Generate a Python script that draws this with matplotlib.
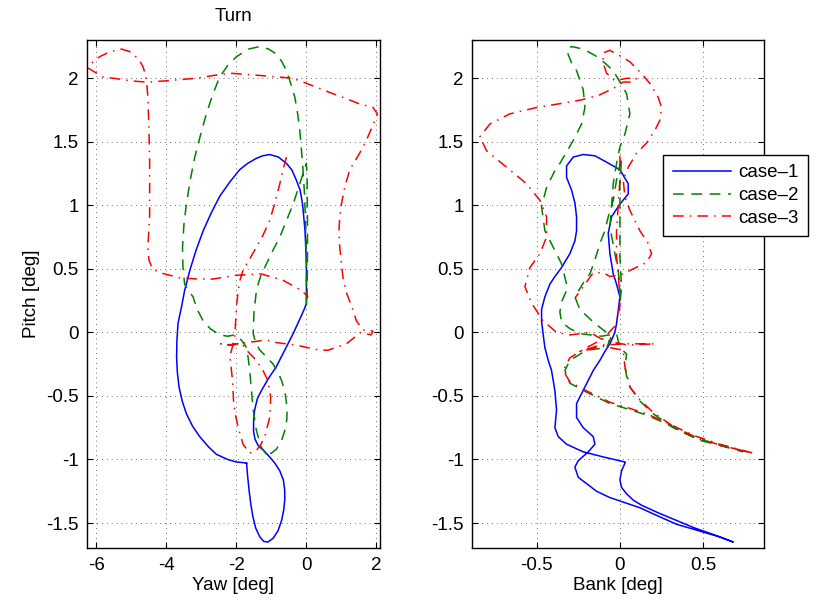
import matplotlib
matplotlib.use("Agg")
import matplotlib.pyplot as plt
from matplotlib.ticker import FormatStrFormatter

plt.rcParams['font.family'] = ['Liberation Sans', 'DejaVu Sans']
plt.rcParams['axes.unicode_minus'] = False
fs = 13.5

labels = ['case\u20131', 'case\u20132', 'case\u20133']

# ---- case-1 (blue) ----
yaw1 = [-1.71, -1.68, -1.64, -1.59, -1.53, -1.45, -1.33, -1.22, -1.10, -0.95, -0.81, -0.71, -0.65,
        -0.62, -0.62, -0.66, -0.76, -0.90, -1.05, -1.22, -1.38, -1.47, -1.51, -1.51, -1.48, -1.40,
        -1.29, -1.08, -0.86, -0.62, -0.38, -0.18, -0.05, 0.0, 0.0, 0.0, 0.0, -0.02, -0.04, -0.11,
        -0.18, -0.29, -0.42, -0.57, -0.80, -1.05, -1.25, -1.43, -1.68, -1.91, -2.20, -2.48, -2.72,
        -2.95, -3.15, -3.33, -3.48, -3.57, -3.67, -3.70, -3.71, -3.69, -3.64, -3.55, -3.43, -3.25,
        -3.05, -2.80, -2.57, -2.25, -2.0, -1.80, -1.71]
pitch1 = [-1.03, -1.13, -1.24, -1.35, -1.45, -1.54, -1.61, -1.645, -1.65, -1.62, -1.56, -1.48, -1.40,
          -1.32, -1.24, -1.16, -1.09, -1.03, -0.98, -0.93, -0.89, -0.84, -0.78, -0.70, -0.61, -0.52,
          -0.46, -0.36, -0.27, -0.14, -0.01, 0.11, 0.19, 0.23, 0.28, 0.41, 0.54, 0.67, 0.80, 1.01,
          1.12, 1.20, 1.28, 1.33, 1.38, 1.40, 1.39, 1.37, 1.33, 1.28, 1.18, 1.07, 0.94,
          0.80, 0.65, 0.49, 0.33, 0.20, 0.07, -0.06, -0.19, -0.31, -0.43, -0.54, -0.64, -0.74,
          -0.82, -0.90, -0.96, -1.00, -1.02, -1.025, -1.03]

bank1 = [0.03, 0.01, 0.0, 0.01, 0.04, 0.08, 0.13, 0.23, 0.34, 0.45, 0.56, 0.64, 0.68, 0.60, 0.47,
         0.34, 0.22, 0.12, 0.03, -0.06, -0.14, -0.20, -0.25, -0.27, -0.25, -0.19, -0.15, -0.16,
         -0.22, -0.26, -0.26, -0.21, -0.16, -0.12, -0.09, -0.06, -0.03, -0.02, -0.01, 0.0, -0.02,
         -0.04, -0.06, -0.07, -0.05, 0.0, 0.05, 0.05, 0.0, -0.08, -0.15, -0.22, -0.28, -0.32, -0.32,
         -0.29, -0.27, -0.26, -0.26, -0.27, -0.30, -0.35, -0.39, -0.42, -0.45, -0.47, -0.47, -0.46,
         -0.45, -0.43, -0.41, -0.39, -0.38, -0.39, -0.37, -0.32, -0.22, -0.10, 0.03]
pitchb1 = [-1.03, -1.09, -1.16, -1.22, -1.27, -1.32, -1.36, -1.42, -1.48, -1.54, -1.59, -1.63, -1.65,
           -1.61, -1.56, -1.51, -1.44, -1.38, -1.34, -1.30, -1.25, -1.19, -1.14, -1.06, -1.01, -0.94,
           -0.88, -0.82, -0.75, -0.67, -0.56, -0.43, -0.30, -0.22, -0.15, -0.09, 0.0, 0.07, 0.17,
           0.28, 0.38, 0.46, 0.62, 0.78, 0.91, 1.01, 1.09, 1.17, 1.28, 1.34, 1.39, 1.40, 1.38, 1.31,
           1.22, 1.12, 1.02, 0.91, 0.80, 0.72, 0.62, 0.51, 0.44, 0.38, 0.28, 0.18, 0.09, -0.02,
           -0.12, -0.22, -0.30, -0.46, -0.61, -0.75, -0.82, -0.88, -0.94, -0.98, -1.02]

# ---- case-2 (green) ----
yaw2 = [-1.14, -1.30, -1.43, -1.52, -1.57, -1.62, -1.67, -1.71, -1.86, -2.05, -2.25, -2.48, -2.75,
        -2.95, -3.12, -3.24, -3.40, -3.48, -3.53, -3.54, -3.50, -3.43, -3.32, -3.19, -3.03, -2.86,
        -2.68, -2.48, -2.25, -2.0, -1.65, -1.33, -1.08, -0.86, -0.70, -0.57, -0.45, -0.33, -0.25,
        -0.19, -0.11, -0.05, -0.02, 0.0, 0.0, 0.0, 0.02, 0.03, 0.03, 0.02, 0.0, -0.38, -0.57,
        -0.76, -0.95, -1.14, -1.30, -1.38, -1.43, -1.48, -1.50, -1.52, -1.45, -1.33, -1.15, -0.95,
        -0.80, -0.71, -0.62, -0.59, -0.55, -0.56, -0.59, -0.71, -0.86, -1.0, -1.14]
pitch2 = [-0.96, -0.90, -0.77, -0.61, -0.46, -0.30, -0.19, -0.12, -0.06, -0.02, -0.03, -0.02, 0.03,
          0.09, 0.18, 0.28, 0.34, 0.38, 0.52, 0.67, 0.85, 1.01, 1.20, 1.38, 1.55, 1.72,
          1.87, 2.01, 2.10, 2.17, 2.23, 2.25, 2.23, 2.19, 2.13, 2.06, 1.96, 1.85, 1.72,
          1.59, 1.33, 1.07, 0.80, 0.54, 0.28, 0.21, 0.30, 0.60, 0.90, 1.20, 1.33, 1.01, 0.88,
          0.75, 0.65, 0.54, 0.45, 0.38, 0.33, 0.20, 0.15, -0.01, -0.08, -0.14, -0.19, -0.25,
          -0.32, -0.38, -0.46, -0.51, -0.61, -0.68, -0.75, -0.85, -0.92, -0.95, -0.96]

bank2 = [0.76, 0.64, 0.48, 0.32, 0.20, 0.12, 0.06, 0.04, 0.03, 0.04, 0.0, -0.02, -0.11, -0.24, -0.30,
         -0.35, -0.36, -0.35, -0.32, -0.32, -0.35, -0.40, -0.45, -0.47, -0.44, -0.38, -0.36, -0.28,
         -0.23, -0.21, -0.22, -0.26, -0.29, -0.32, -0.29, -0.22, -0.15, -0.09, -0.04, 0.0, 0.04,
         0.06, 0.03, 0.0, -0.02, -0.04, -0.05, -0.06, -0.03, -0.01, 0.0, 0.0, 0.01, 0.0, 0.0, 0.0,
         0.01, -0.02, -0.04, -0.07, -0.09, -0.12, -0.15, -0.18, -0.21, -0.27, -0.24, -0.15, -0.05,
         -0.08, -0.20, -0.30, -0.33, -0.30, -0.20, -0.06, 0.04, 0.16, 0.28, 0.44, 0.60, 0.74]
pitchb2 = [-0.94, -0.90, -0.85, -0.75, -0.64, -0.54, -0.43, -0.34, -0.27, -0.17, -0.12, -0.01, -0.03,
           -0.01, 0.03, 0.08, 0.16, 0.24, 0.33, 0.38, 0.54, 0.67, 0.80, 0.99, 1.14, 1.30, 1.33, 1.51,
           1.64, 1.77, 1.91, 2.06, 2.12, 2.22, 2.25, 2.23, 2.18, 2.12, 2.06, 1.97, 1.88,
           1.72, 1.56, 1.46, 1.33, 1.17, 0.99, 0.83, 0.62, 0.49, 0.35, 0.23, 0.35, 0.60, 0.90, 1.15,
           1.38, 1.20, 1.04, 0.91, 0.80, 0.70, 0.57, 0.46, 0.41, 0.28, 0.18, 0.07, -0.03,
           -0.12, -0.14, -0.22, -0.30, -0.40, -0.47, -0.56, -0.60, -0.65, -0.72, -0.82, -0.89, -0.94]

# ---- case-3 (red) ----
yaw3 = [-0.57, -0.68, -0.76, -0.90, -1.05, -1.25, -1.43, -1.62, -1.81, -1.90, -1.95, -2.0, -2.02,
        -2.05, -2.12, -2.19, -2.15, -2.11, -2.08, -2.02, -1.95, -1.81, -1.62, -1.43, -1.30, -1.19,
        -1.05, -1.02, -1.10, -1.24, -1.43, -1.71, -1.86, -2.1, -2.45, -2.29, -1.71, -1.14, -0.86,
        -0.29, 0.38, 0.62, 1.14, 1.55, 1.85, 1.90, 1.62, 1.43, 1.30, 1.16, 1.05, 1.0, 0.95, 0.93,
        0.95, 1.0, 1.10, 1.24, 1.50, 1.71, 1.90, 2.03, 1.90, 1.50, 1.14, 0.65, 0.19, -0.38, -0.80,
        -1.24, -1.70, -2.19, -2.70, -3.14, -3.60, -4.0, -4.57, -5.05, -5.5, -5.81, -6.24, -6.1,
        -5.91, -5.6, -5.29, -5.05, -4.91, -4.75, -4.67, -4.60, -4.57, -4.53, -4.50, -4.48, -4.48,
        -4.48, -4.53, -4.50, -4.40, -4.19, -3.62, -3.10, -2.67, -2.0, -1.29, -0.67, -0.40, -0.14, 0.05]
pitch3 = [1.38, 1.27, 1.17, 1.02, 0.88, 0.76, 0.67, 0.58, 0.49, 0.41, 0.33, 0.20, 0.10,
          -0.04, -0.12, -0.19, -0.28, -0.38, -0.56, -0.66, -0.75, -0.88, -0.95, -0.93, -0.88, -0.82,
          -0.67, -0.51, -0.38, -0.30, -0.22, -0.14, -0.08, -0.10, -0.09, -0.10, -0.08, -0.06, -0.08,
          -0.10, -0.14, -0.14, -0.09, 0.0, -0.02, 0.01, 0.02, 0.09, 0.20, 0.30, 0.42, 0.54, 0.68, 0.80,
          0.90, 1.01, 1.15, 1.28, 1.40, 1.51, 1.63, 1.72, 1.77, 1.80, 1.84, 1.89, 1.94, 2.0, 2.01,
          2.02, 2.03, 2.04, 2.02, 2.0, 1.99, 1.98, 1.97, 1.98, 2.0, 2.01, 2.08, 2.13,
          2.17, 2.21, 2.23, 2.21, 2.18, 2.13, 2.09, 2.03, 1.98, 1.85, 1.60, 1.33, 1.10,
          0.93, 0.67, 0.57, 0.50, 0.47, 0.43, 0.42, 0.42, 0.45, 0.46, 0.41, 0.37, 0.33, 0.28]

bank3 = [0.0, 0.0, -0.01, -0.02, -0.02, -0.01, 0.0, 0.0, -0.03, -0.10, -0.20, -0.30, -0.34, -0.30,
         -0.20, -0.06, 0.04, 0.16, 0.28, 0.44, 0.60, 0.80, 0.64, 0.48, 0.32, 0.20, 0.12, 0.06, 0.03,
         0.02, -0.10, -0.24, -0.12, 0.05, 0.21, 0.05, -0.10, -0.18, -0.30, -0.38, -0.46, -0.53,
         -0.57, -0.54, -0.48, -0.44, -0.44, -0.48, -0.56, -0.68, -0.80, -0.84, -0.78, -0.66, -0.50,
         -0.36, -0.23, -0.12, -0.04, 0.02, 0.08, 0.10, 0.04, -0.03, -0.08, -0.10, -0.10, -0.06,
         0.01, 0.06, 0.12, 0.18, 0.23, 0.25, 0.24, 0.21, 0.16, 0.10, 0.05, 0.02, 0.03, 0.06, 0.12,
         0.17, 0.19, 0.16, 0.08, 0.0, -0.06, -0.10, -0.16, -0.22, -0.27]
pitchb3 = [1.39, 1.20, 1.0, 0.8, 0.6, 0.45, 0.30, 0.20, 0.05, -0.05, -0.12, -0.20, -0.30, -0.39,
           -0.46, -0.55, -0.59, -0.64, -0.71, -0.81, -0.88, -0.95, -0.90, -0.84, -0.74, -0.63, -0.53,
           -0.43, -0.27, -0.14, -0.11, -0.15, -0.10, -0.09, -0.09, -0.10, -0.06, 0.0, -0.02, 0.0,
           0.09, 0.23, 0.36, 0.51, 0.62, 0.75, 0.91, 1.04, 1.17, 1.30, 1.43, 1.54, 1.64, 1.72, 1.77,
           1.80, 1.83, 1.87, 1.92, 1.97, 1.97, 2.0, 2.0, 1.98, 2.04, 2.12, 2.20, 2.22,
           2.17, 2.13, 2.05, 1.96, 1.85, 1.77, 1.67, 1.59, 1.49, 1.41, 1.30, 1.20, 1.07, 0.96, 0.80,
           0.70, 0.62, 0.55, 0.50, 0.45, 0.44, 0.47, 0.47, 0.36, 0.27]

colors = ['#0000ff', '#008000', '#ff0000']
styles = ['-', (0, (7, 5)), (0, (7, 4, 1, 4))]

fig = plt.figure(figsize=(8.17, 6.08), dpi=100)
ax1 = fig.add_axes([0.1065, 0.098, 0.3585, 0.837])
ax2 = fig.add_axes([0.578, 0.098, 0.357, 0.837])

ax1.plot(yaw1, pitch1, color=colors[0], linestyle=styles[0], lw=1.1, label=labels[0])
ax1.plot(yaw2, pitch2, color=colors[1], linestyle=styles[1], lw=1.1, label=labels[1])
ax1.plot(yaw3, pitch3, color=colors[2], linestyle=styles[2], lw=1.1, label=labels[2])

ax2.plot(bank1, pitchb1, color=colors[0], linestyle=styles[0], lw=1.1, label=labels[0])
ax2.plot(bank2, pitchb2, color=colors[1], linestyle=styles[1], lw=1.1, label=labels[1])
ax2.plot(bank3, pitchb3, color=colors[2], linestyle=styles[2], lw=1.1, label=labels[2])

ax1.set_xlim(-6.27, 2.1)
ax2.set_xlim(-0.886, 0.864)
for ax in (ax1, ax2):
    ax.set_ylim(-1.70, 2.305)
    ax.set_yticks([-1.5, -1, -0.5, 0, 0.5, 1, 1.5, 2])
    ax.yaxis.set_major_formatter(FormatStrFormatter('%g'))
    ax.xaxis.set_major_formatter(FormatStrFormatter('%g'))
    ax.tick_params(direction='in', top=True, right=True, length=4, width=0.8,
                   labelsize=fs, pad=6)
    ax.grid(True, color='0.3', linestyle=(0, (0.8, 4.2)), lw=0.7)
    for s in ax.spines.values():
        s.set_linewidth(1.0)
ax1.set_xticks([-6, -4, -2, 0, 2])
ax2.set_xticks([-0.5, 0, 0.5])

ax1.set_title('Turn', fontsize=fs, pad=13)
ax1.set_xlabel('Yaw [deg]', fontsize=fs, labelpad=2)
ax2.set_xlabel('Bank [deg]', fontsize=fs, labelpad=2)
ax1.set_ylabel('Pitch [deg]', fontsize=fs, labelpad=4)

leg = ax2.legend(loc='upper left', bbox_to_anchor=(663.3 / 817, 1 - 155 / 608),
                 bbox_transform=fig.transFigure, fontsize=fs, handlelength=3.1,
                 handletextpad=0.4, borderpad=0.5, labelspacing=0.3, borderaxespad=0,
                 fancybox=False, framealpha=1, edgecolor='black')
leg.get_frame().set_linewidth(1.0)

fig.savefig('out.png', dpi=100)
